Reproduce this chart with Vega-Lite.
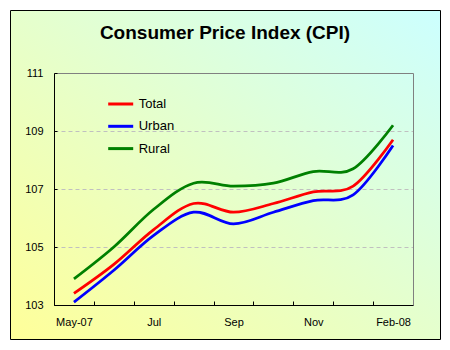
{
  "$schema": "https://vega.github.io/schema/vega-lite/v6.json",
  "width": 430,
  "height": 329,
  "autosize": {"type": "none"},
  "padding": {"left": 10, "top": 10, "right": 10, "bottom": 11},
  "background": "white",
  "title": {
    "text": "Consumer Price Index (CPI)",
    "font": "Liberation Sans",
    "fontSize": 19,
    "fontWeight": "bold",
    "color": "black",
    "anchor": "middle",
    "frame": "group",
    "baseline": "alphabetic",
    "offset": 0,
    "dy": 48
  },
  "config": {
    "view": {
      "fill": {
        "gradient": "linear",
        "x1": 0, "y1": 1, "x2": 1, "y2": 0,
        "stops": [
          {"offset": 0, "color": "#ffff99"},
          {"offset": 1, "color": "#ccffff"}
        ]
      },
      "stroke": "black",
      "strokeWidth": 1
    },
    "font": "Liberation Sans",
    "axis": {"labelFont": "Liberation Sans", "labelColor": "black", "labelFontSize": 11}
  },
  "data": {
    "values": [
      {"month": "May-07", "series": "Total", "value": 103.4},
      {"month": "Jun", "series": "Total", "value": 104.4},
      {"month": "Jul", "series": "Total", "value": 105.6},
      {"month": "Aug", "series": "Total", "value": 106.5},
      {"month": "Sep", "series": "Total", "value": 106.2},
      {"month": "Oct", "series": "Total", "value": 106.5},
      {"month": "Nov", "series": "Total", "value": 106.9},
      {"month": "Jan", "series": "Total", "value": 107.1},
      {"month": "Feb-08", "series": "Total", "value": 108.7},
      {"month": "May-07", "series": "Urban", "value": 103.1},
      {"month": "Jun", "series": "Urban", "value": 104.2},
      {"month": "Jul", "series": "Urban", "value": 105.4},
      {"month": "Aug", "series": "Urban", "value": 106.2},
      {"month": "Sep", "series": "Urban", "value": 105.8},
      {"month": "Oct", "series": "Urban", "value": 106.2},
      {"month": "Nov", "series": "Urban", "value": 106.6},
      {"month": "Jan", "series": "Urban", "value": 106.8},
      {"month": "Feb-08", "series": "Urban", "value": 108.5},
      {"month": "May-07", "series": "Rural", "value": 103.9},
      {"month": "Jun", "series": "Rural", "value": 105.0},
      {"month": "Jul", "series": "Rural", "value": 106.3},
      {"month": "Aug", "series": "Rural", "value": 107.2},
      {"month": "Sep", "series": "Rural", "value": 107.1},
      {"month": "Oct", "series": "Rural", "value": 107.2},
      {"month": "Nov", "series": "Rural", "value": 107.6},
      {"month": "Jan", "series": "Rural", "value": 107.7},
      {"month": "Feb-08", "series": "Rural", "value": 109.2}
    ]
  },
  "layer": [
    {
      "mark": {"type": "line", "interpolate": "cardinal", "strokeWidth": 2.75},
      "encoding": {
        "x": {
          "field": "month",
          "type": "ordinal",
          "sort": null,
          "bandPosition": 0.5,
          "scale": {"type": "band", "range": [44, 403], "paddingInner": 0, "paddingOuter": 0},
          "axis": {
            "title": null,
            "orient": "bottom",
            "offset": -34,
            "domainColor": "black",
            "tickColor": "black",
            "tickSize": -4,
            "tickBand": "extent",
            "labelPadding": 15,
            "labelAngle": 0,
            "labelExpr": "indexof(['May-07','Jul','Sep','Nov','Feb-08'], datum.value) >= 0 ? datum.value : ''",
            "grid": false
          }
        },
        "y": {
          "field": "value",
          "type": "quantitative",
          "scale": {"domain": [103, 111], "range": [295, 63], "nice": false, "zero": false},
          "axis": {
            "title": null,
            "orient": "left",
            "offset": -44,
            "values": [103, 105, 107, 109, 111],
            "format": "d",
            "domainColor": "black",
            "tickColor": "black",
            "tickSize": -3,
            "labelPadding": 14,
            "grid": true,
            "gridColor": {"condition": {"test": "datum.value === 111", "value": "#808080"}, "value": "#c0c0c0"},
            "gridDash": {"condition": {"test": "datum.value === 111", "value": []}, "value": [4, 3]}
          }
        },
        "color": {
          "field": "series",
          "type": "nominal",
          "scale": {"domain": ["Total", "Urban", "Rural"], "range": ["#ff0000", "#0000ff", "#008000"]},
          "legend": {
            "title": null,
            "orient": "none",
            "legendX": 96.7,
            "legendY": 80,
            "direction": "vertical",
            "symbolType": "stroke",
            "symbolSize": 625,
            "symbolStrokeWidth": 3,
            "labelFont": "Liberation Sans",
            "labelFontSize": 13,
            "labelColor": "black",
            "labelOffset": 4,
            "rowPadding": 1.3,
            "padding": 0
          }
        }
      }
    },
    {
      "mark": {"type": "point", "opacity": 0},
      "encoding": {
        "x": {"field": "month", "type": "ordinal", "sort": null},
        "y": {
          "field": "value",
          "type": "quantitative",
          "axis": {
            "title": null,
            "orient": "right",
            "offset": -27,
            "domainColor": "#808080",
            "ticks": false,
            "labels": false,
            "grid": false
          }
        }
      }
    }
  ],
  "resolve": {"axis": {"y": "independent"}}
}
